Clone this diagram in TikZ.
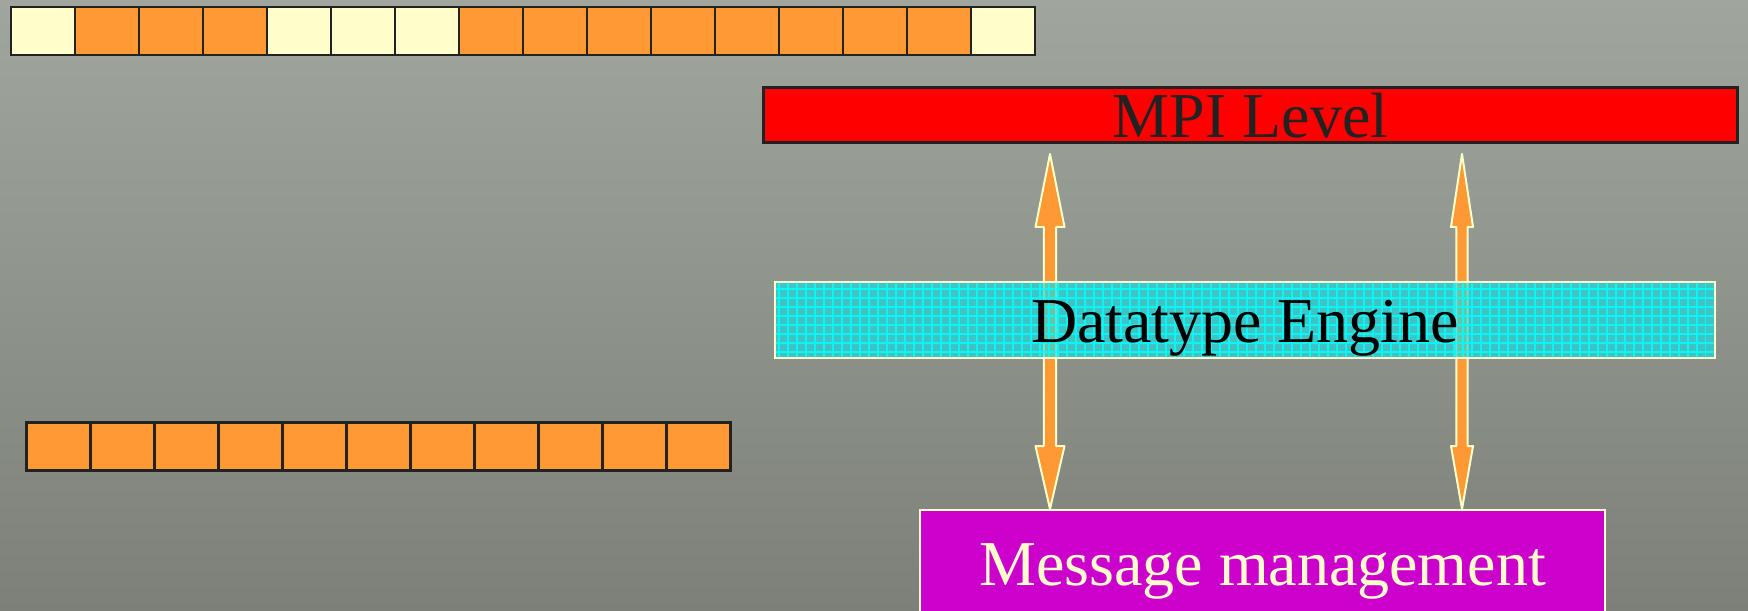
\documentclass[tikz,border=0pt]{standalone}
\usepackage{fontspec}
\setmainfont{Liberation Serif}
\usetikzlibrary{calc}

\definecolor{cellpale}{HTML}{FFFFCC}
\definecolor{cellorange}{HTML}{FF9933}
\definecolor{edgedark}{HTML}{222222}
\definecolor{mpired}{HTML}{FF0000}
\definecolor{enginecyan}{RGB}{30,218,222}
\definecolor{gridcyan}{HTML}{00FFFF}
\definecolor{msgmagenta}{HTML}{CC00CC}
\definecolor{slidetop}{RGB}{160,166,158}
\definecolor{slidebottom}{RGB}{124,128,121}

\begin{document}
\begin{tikzpicture}[x=0.02cm, y=-0.02cm,
    cell/.style={draw=edgedark, line width=0.05cm, minimum width=1.28cm, minimum height=0.96cm, inner sep=0pt, outer sep=0pt},
    layer/.style={inner sep=0pt, outer sep=0pt, text height=0.92cm, text depth=0pt, font={\fontsize{36.4}{40}\selectfont}},
    linkarrow/.style={fill=cellorange, draw=cellpale, line width=0.04cm, line join=round},
    gridline/.style={gridcyan, line width=0.025cm, draw opacity=0.85}]

    \useasboundingbox (0,0) rectangle (1748,611);
    \clip (0,0) rectangle (1748,611);
    \shade[top color=slidetop, bottom color=slidebottom] (0,0) rectangle (1748,611);

    % data buffers
    \foreach \c [count=\i] in {cellpale,cellorange,cellorange,cellorange,cellpale,cellpale,cellpale,cellorange,cellorange,cellorange,cellorange,cellorange,cellorange,cellorange,cellorange,cellpale}
        \node[cell, fill=\c] (src\i) at ({64*\i-21},31) {};
    \foreach \i in {1,...,11}
        \node[cell, fill=cellorange] (dst\i) at ({64*\i-5.5},446.5) {};

    \node[layer, draw=edgedark, line width=0.06cm, fill=mpired, text=edgedark, minimum width=19.48cm, minimum height=1.1cm] (mpi) at (1250.5,115) {MPI Level};
    \node[layer, draw=cellpale, line width=0.03cm, fill=msgmagenta, text=cellpale, minimum width=13.71cm, minimum height=2.12cm] (msg) at (1262.5,563) {Message management};

    % two-way links between the layers
    \foreach \x/\hw/\sw [count=\k] in {1050/14.5/6.2, 1462/11/5.7} {
        \coordinate (up\k) at ($(\x,0 |- mpi.south)+(0,11.5)$);
        \coordinate (dn\k) at ($(\x,0 |- msg.north)+(0,-1)$);
        \filldraw[linkarrow] (up\k) -- ++(\hw,73) -- ++({\sw-\hw},0) -- ($(dn\k)+(\sw,-63)$) -- ++({\hw-\sw},0) -- (dn\k)
            -- ++(-\hw,-63) -- ++({\hw-\sw},0) -- ($(up\k)+(-\sw,73)$) -- ++({\sw-\hw},0) -- cycle;
    }

    \node[layer, draw=cellpale, line width=0.04cm, fill=enginecyan, fill opacity=0.7, text opacity=1, text=black,
        minimum width=18.8cm, minimum height=1.52cm,
        path picture={\draw[gridline, step=0.18cm] (path picture bounding box.south west) grid (path picture bounding box.north east);}]
        (dte) at (1245,320) {Datatype Engine};
\end{tikzpicture}
\end{document}
